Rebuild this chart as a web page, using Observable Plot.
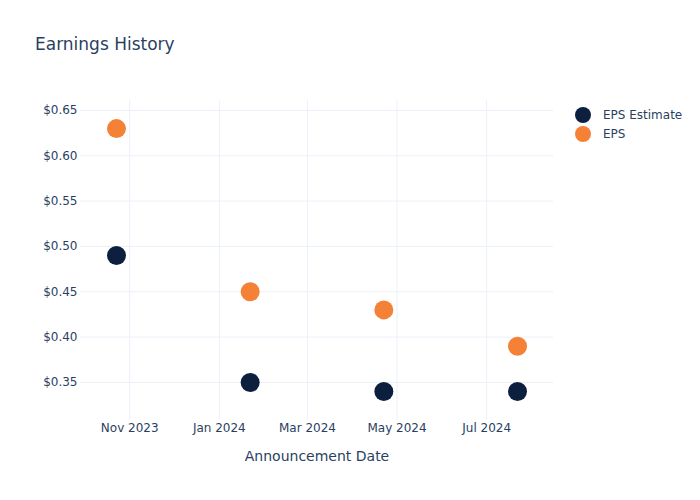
<!DOCTYPE html>
<html>
<head>
<meta charset="utf-8">
<script src="https://cdn.jsdelivr.net/npm/d3@7"></script>
<script src="https://cdn.jsdelivr.net/npm/@observablehq/plot@0.6"></script>
<style>
  body { margin: 0; background: #fff; font-family: "DejaVu Sans", sans-serif; }
  #wrap { position: relative; width: 700px; height: 500px; }
  #title { position: absolute; left: 35px; top: 34px; font-size: 17px; color: #2a3f5f; }
  .leg { position: absolute; left: 575px; font-size: 12px; color: #2a3f5f; display: flex; align-items: center; }
  .leg span.dot { display: inline-block; width: 16px; height: 16px; border-radius: 50%; margin-right: 12px; }
</style>
</head>
<body>
<div id="wrap">
  <div id="title">Earnings History</div>
</div>
<script>
const dates = ["2023-10-23", "2024-01-22", "2024-04-22", "2024-07-22"];
const epsEstimate = [0.49, 0.35, 0.34, 0.34];
const epsActual = [0.63, 0.45, 0.43, 0.39];
const xTicks = ["2023-11-01", "2024-01-01", "2024-03-01", "2024-05-01", "2024-07-01"];
const yTicks = [0.35, 0.40, 0.45, 0.50, 0.55, 0.60, 0.65];
const series = [
  {name: "EPS Estimate", values: epsEstimate, color: "#0d1f3f"},
  {name: "EPS", values: epsActual, color: "#f58137"}
];

const rows = series.flatMap(s => dates.map((d, i) => ({date: new Date(d), value: s.values[i], series: s.name, color: s.color})));
const xt = xTicks.map(d => new Date(d));

const chart = Plot.plot({
  width: 700,
  height: 500,
  marginLeft: 80,
  marginRight: 147,
  marginTop: 100,
  marginBottom: 80,
  style: {fontFamily: "DejaVu Sans, sans-serif", fontSize: "12px", color: "#2a3f5f", background: "#fff"},
  x: {type: "utc", domain: [new Date("2023-09-28T12:00"), new Date("2024-08-15T12:00")], ticks: xt, tickFormat: d3.utcFormat("%b %Y"), tickSize: 0, tickPadding: 3, label: null},
  y: {domain: [0.308, 0.661], ticks: yTicks, tickFormat: d => "$" + d.toFixed(2), tickSize: 0, tickPadding: 3, label: null},
  marks: [
    Plot.ruleX(xt, {stroke: "#ebf0f8", strokeWidth: 1}),
    Plot.ruleY(yTicks, {stroke: "#ebf0f8", strokeWidth: 1}),
    Plot.dot(rows, {x: "date", y: "value", r: 9.5, fill: "color", stroke: "none"}),
    Plot.axisX({ticks: xt, tickFormat: d3.utcFormat("%b %Y"), tickSize: 0, tickPadding: 3, fill: "#2a3f5f", fontSize: 12, label: null}),
    Plot.axisY({ticks: yTicks, tickFormat: d => "$" + d.toFixed(2), tickSize: 0, tickPadding: 3, fill: "#2a3f5f", fontSize: 12, label: null}),
    Plot.text(["Announcement Date"], {frameAnchor: "bottom", dy: 40, fontSize: 14, fill: "#2a3f5f"})
  ]
});
chart.style.position = "absolute";
chart.style.left = "0";
chart.style.top = "0";
const wrap = document.getElementById("wrap");
wrap.appendChild(chart);
const title = document.getElementById("title");
wrap.appendChild(title);
series.forEach((s, i) => {
  const el = document.createElement("div");
  el.className = "leg";
  el.style.top = (107 + i * 19) + "px";
  el.innerHTML = `<span class="dot" style="background:${s.color}"></span>${s.name}`;
  wrap.appendChild(el);
});
</script>
</body>
</html>
